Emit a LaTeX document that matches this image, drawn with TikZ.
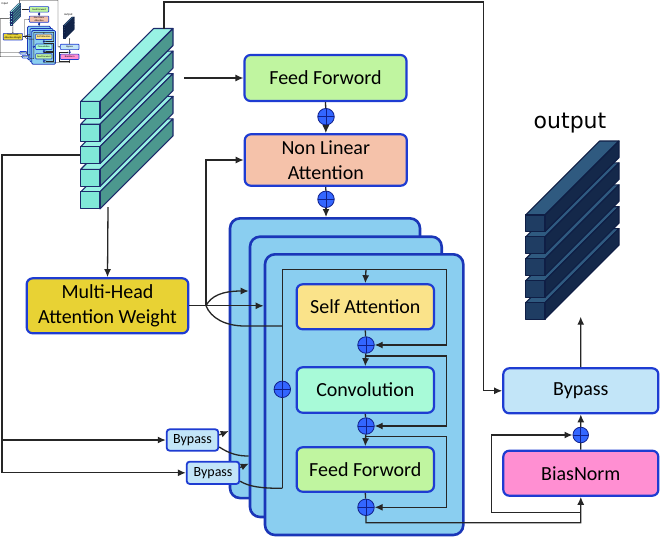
\documentclass[tikz,border=0pt]{standalone}
\usepackage{fontspec}
\setmainfont{Carlito}
\newfontfamily\dejavu{DejaVu Sans}
\usetikzlibrary{arrows.meta}
\definecolor{bblue}{HTML}{1E3CD2}
\definecolor{pblue}{HTML}{1A36B8}
\definecolor{ffg}{HTML}{C0F5A0}
\definecolor{nlac}{HTML}{F5C2AA}
\definecolor{mhac}{HTML}{E8D234}
\definecolor{sac}{HTML}{FAE38A}
\definecolor{cvc}{HTML}{A8FAD8}
\definecolor{panelc}{HTML}{8ACEF0}
\definecolor{bypc}{HTML}{C2E5F8}
\definecolor{biasc}{HTML}{FF8FD2}
\definecolor{plusc}{HTML}{3366FF}
\definecolor{plusl}{HTML}{10208A}
\definecolor{intop}{HTML}{98F2E4}
\definecolor{infront}{HTML}{80E8D8}
\definecolor{inside}{HTML}{4C988E}
\definecolor{inedge}{HTML}{1C2B6B}
\definecolor{outtop}{HTML}{2F5A80}
\definecolor{outfront}{HTML}{1F3D63}
\definecolor{outside}{HTML}{14284A}
\definecolor{outedge}{HTML}{0F1E45}
\def\LW{1}\def\RC{1}
\tikzset{
 conn/.style={draw=black!85, line width=\LW*1.3pt},
 arr/.style={conn, -{Latex[length=8pt,width=7pt]}},
 box/.style={draw=bblue, line width=\LW*2.2pt, rounded corners=\RC*6pt, align=center, inner sep=0pt, font=\fontsize{20}{24.5}\selectfont},
 smallbox/.style={box, line width=\LW*1.8pt, rounded corners=\RC*3pt, font=\fontsize{14}{16}\selectfont},
 panel/.style={draw=pblue, fill=panelc, line width=\LW*2.6pt, rounded corners=\RC*10pt, inner sep=0pt},
 plus/.style={circle, draw=plusl, fill=plusc, line width=\LW*0.8pt, inner sep=0pt, minimum size=16.5pt,
   path picture={\draw[plusl, line width=\LW*1pt] (path picture bounding box.north) -- (path picture bounding box.south) (path picture bounding box.west) -- (path picture bounding box.east);}},
 lbl/.style={font=\dejavu\fontsize{22}{24}\selectfont, inner sep=0pt},
}
% x, y, w, h, depth, colour prefix
\newcommand\tensorbar[6]{%
 \filldraw[fill=#6top, draw=#6edge, line width=\LW*1.1pt, line join=round] (#1,#2) -- ++(#5,-#5) -- ++(#3,0) -- ++(-#5,#5) -- cycle;
 \filldraw[fill=#6side, draw=#6edge, line width=\LW*1.1pt, line join=round] (#1+#3,#2) -- ++(#5,-#5) -- ++(0,#4) -- ++(-#5,#5) -- cycle;
 \filldraw[fill=#6front, draw=#6edge, line width=\LW*1.1pt, line join=round] (#1,#2) rectangle ++(#3,#4);}
\newcommand\drawdiagram[1]{%
 % input tensor
 \foreach \i in {4,3,2,1,0}{\pgfmathsetmacro\yy{101.5+22.6*\i}\tensorbar{80.7}{\yy}{19.3}{17}{73}{in}}
 % output tensor
 \foreach \i in {4,3,2,1,0}{\pgfmathsetmacro\yy{215+21.9*\i}\tensorbar{525.7}{\yy}{19.3}{16.5}{74}{out}}
 \node[lbl] (#1outlbl) at (570,123) {output};
 \coordinate (#1intop) at (164,28.7);
 \coordinate (#1inr) at (184,78);
 \coordinate (#1inb) at (108,207);
 \coordinate (#1inl) at (80,155);
 \coordinate (#1outb) at (580.7,316.7);
 % top column
 \node[box, fill=ffg, minimum width=162pt, minimum height=46pt] (#1ffa) at (325.5,78) {Feed Forword};
 \node[plus] (#1pa) at (326,116.7) {};
 \node[box, fill=nlac, minimum width=162pt, minimum height=51.4pt] (#1nla) at (325.8,160) {Non Linear\\Attention};
 \node[plus] (#1pb) at (326,199.3) {};
 % stacked panels
 \node[panel, minimum width=190pt, minimum height=279.7pt] (#1pnla) at (325,358.2) {};
 \node[panel, minimum width=191.7pt, minimum height=280.3pt] (#1pnlb) at (345.85,376.85) {};
 \node[panel, minimum width=198.3pt, minimum height=280.7pt] (#1pnlc) at (364.15,394.65) {};
 \node[box, fill=sac, minimum width=137.3pt, minimum height=45pt] (#1sa) at (365.3,306.8) {Self Attention};
 \node[box, fill=cvc, minimum width=137.3pt, minimum height=45.4pt] (#1cv) at (365.3,390) {Convolution};
 \node[box, fill=ffg, minimum width=137.3pt, minimum height=44.4pt] (#1ffb) at (365.3,469.5) {Feed Forword};
 \node[plus] (#1pc) at (366,345) {};
 \node[plus] (#1pd) at (366,426) {};
 \node[plus] (#1pe) at (366,507.3) {};
 % left side
 \node[box, fill=mhac, minimum width=161.6pt, minimum height=55pt] (#1mha) at (107.5,305.8) {Multi-Head\\Attention Weight};
 \node[smallbox, fill=bypc, minimum width=51.6pt, minimum height=21.4pt] (#1bya) at (192.5,440) {Bypass};
 \node[smallbox, fill=bypc, minimum width=52.6pt, minimum height=22.3pt] (#1byb) at (213,472.8) {Bypass};
 % right side
 \node[box, fill=biasc, minimum width=155pt, minimum height=45pt] (#1bias) at (580.8,473.2) {BiasNorm};
 \node[box, fill=bypc, minimum width=155pt, minimum height=45pt] (#1byc) at (580.8,390.8) {Bypass};
 % connectors: top column
 \draw[arr] (#1inr) -- (#1ffa.west);
 \draw[conn] (#1ffa.south) -- (#1pa);
 \draw[arr] (#1pa) -- (#1nla.north);
 \draw[conn] (#1nla.south) -- (#1pb);
 \draw[arr] (#1pb) -- (#1pb |- #1pnla.north);
 % input to right bypass
 \draw[arr] (#1intop) -- (164,2) -- (483.3,2) |- (#1byc.west);
 % input to MHA
 \draw[arr] (#1inb) -- (#1mha.north);
 % left line to bypasses
 \draw[arr] (#1inl) -- (2,155) |- (#1byb.west);
 \draw[arr] (2,440) -- (#1bya.west);
 % MHA to panels
 \draw[arr] (#1mha.east) -- (#1pnlc.west |- #1mha.east);
 \draw[arr] (206,305.8) .. controls (211,296) and (222,291) .. (#1pnlb.west |- 0,291);
 \draw[arr] (206,305.8) -- (206,160) -- (#1nla.west);
 \draw[conn] (206,305.8) .. controls (211,318) and (225,326) .. (245,326) -- (282.3,326);
 % bypass links
 \draw[arr] ([yshift=5pt]#1bya.east) -- (#1pnla.west |- 0,431);
 \draw[conn] ([yshift=-7pt]#1bya.east) .. controls (230,454) and (238,456) .. (#1pnlb.west |- 0,456);
 \draw[arr] ([yshift=5.3pt]#1byb.east) -- (#1pnlb.west |- 0,463.5);
 \draw[conn] ([yshift=-8.5pt]#1byb.east) .. controls (250,487) and (262,488.3) .. (282.3,488.3);
 % inside front panel
 \node[plus] (#1pf) at (282.3,389.3) {};
 \draw[conn] (282.3,488.3) -- (#1pf) -- (282.3,269.3) -- (446.7,269.3) -- (446.7,345);
 \draw[arr] (446.7,344) |- (#1pc.east);
 \draw[arr] (366,269.3) -- (#1sa.north);
 \draw[conn] (#1sa.south) -- (#1pc);
 \draw[arr] (#1pc) -- (#1cv.north);
 \draw[arr] (366,356) -- (446.7,356) |- (#1pd.east);
 \draw[conn] (#1cv.south) -- (#1pd);
 \draw[arr] (#1pd) -- (#1ffb.north);
 \draw[arr] (366,436.7) -- (446.7,436.7) |- (#1pe.east);
 \draw[conn] (#1ffb.south) -- (#1pe);
 \draw[arr] (#1pe) |- (580.7,522.7) -- (#1bias.south);
 % BiasNorm residual
 \node[plus, minimum size=15.6pt] (#1pg) at (580.7,435) {};
 \draw[arr] (580.7,512.7) -- (491.7,512.7) |- (#1pg.west);
 \draw[conn] (#1bias.north) -- (#1pg);
 \draw[arr] (#1pg) -- (#1byc.south);
 \draw[arr] (#1byc.north) -- (#1outb);
}
\begin{document}
\begin{tikzpicture}[x=1pt,y=-1pt]
\useasboundingbox (0,0) rectangle (660,538);
\fill[white] (0,0) rectangle (660,538);
\drawdiagram{m}
\begin{scope}[scale=0.12, transform shape]
 \def\LW{0.3}\def\RC{0.12}
 \tikzset{arr/.style={conn,-{Latex[length=1.2pt,width=1pt]}}}
 \fill[white] (0,0) rectangle (660,560);
 \drawdiagram{t}
 \node[lbl] (tinlbl) at (40,30) {input};
\end{scope}
\end{tikzpicture}
\end{document}
